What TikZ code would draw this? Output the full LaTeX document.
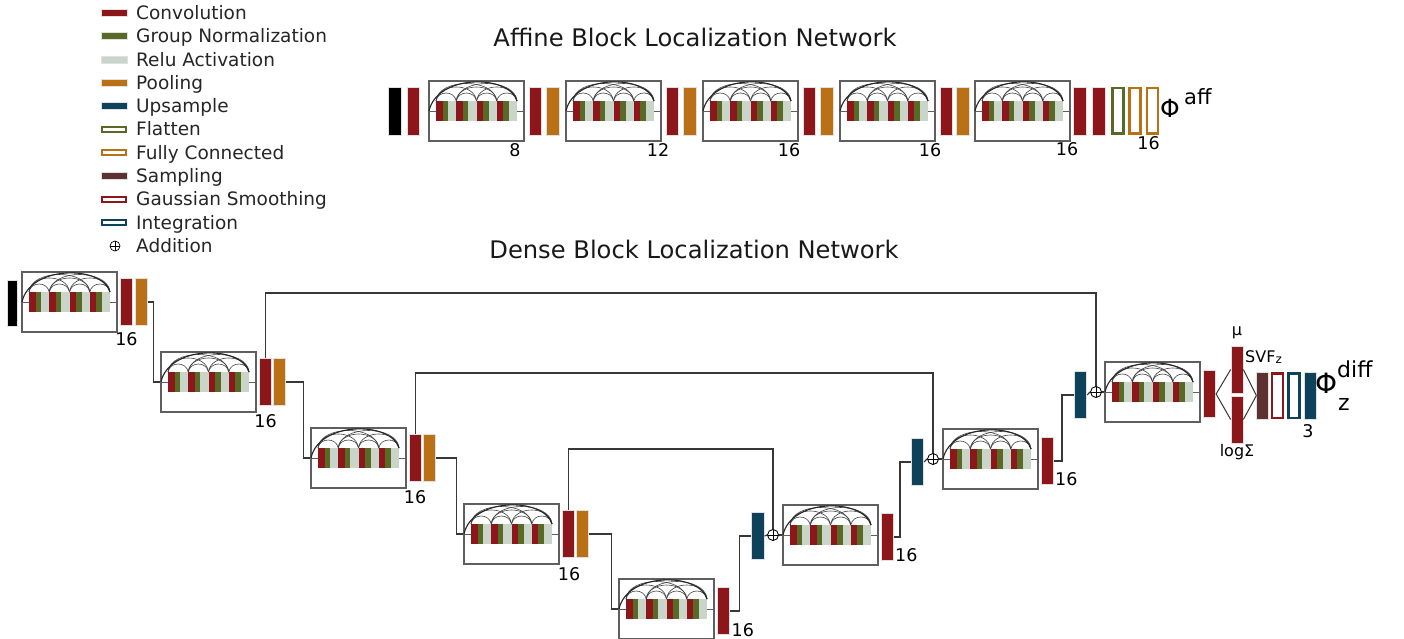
\documentclass[tikz,border=0pt]{standalone}
\usepackage{fontspec}
\setmainfont{DejaVu Sans}
\usetikzlibrary{calc}
\definecolor{conv}{RGB}{140,22,26}
\definecolor{gnorm}{RGB}{88,106,38}
\definecolor{relu}{RGB}{200,213,200}
\definecolor{pool}{RGB}{186,112,20}
\definecolor{ups}{RGB}{14,66,90}
\definecolor{samp}{RGB}{95,48,48}
\definecolor{lin}{RGB}{55,55,55}
\definecolor{boxc}{RGB}{95,95,95}
\tikzset{
  bar/.style={rectangle, inner sep=0pt, minimum width=12.5pt, minimum height=47pt, draw=black!12, line width=0.7pt},
  obar/.style={rectangle, inner sep=0pt, minimum width=11pt, minimum height=44.5pt, fill=white, line width=2.5pt},
  blk/.style={rectangle, draw=boxc, line width=1.1pt, minimum width=95pt, minimum height=60pt, inner sep=0pt},
  conn/.style={draw=lin, line width=1.2pt},
  arcl/.style={draw=black!75, line width=0.6pt},
  arck/.style={draw=black!85, line width=1.1pt},
  addc/.style={circle, draw=black, line width=0.9pt, minimum size=11pt, inner sep=0pt, path picture={\draw[line width=0.9pt] (path picture bounding box.north) -- (path picture bounding box.south) (path picture bounding box.west) -- (path picture bounding box.east);}},
  lab/.style={font=\fontsize{17.5}{17.5}\selectfont, inner sep=0pt},
  leg/.style={font=\fontsize{18.5}{18.5}\selectfont, inner sep=0pt, anchor=base west, text=black!85},
  sw/.style={rectangle, inner sep=0pt, minimum width=26pt, minimum height=7pt, draw=black!12, line width=0.7pt},
  osw/.style={rectangle, inner sep=0pt, minimum width=23.5pt, minimum height=5pt, fill=white, line width=2.2pt},
  ttl/.style={font=\fontsize{24.2}{24.2}\selectfont, inner sep=0pt, anchor=base, text=black!90},
}
\newcommand\dblock[3]{%
  \node[blk] (#1) at (#2+47.5,#3+30) {};
  \foreach \g in {0,1,2,3}{
    \pgfmathsetmacro\gx{#2+7+20.25*\g}
    \fill[conv] (\gx,#3+20) rectangle ++(6.5,20);
    \fill[gnorm] (\gx+6.5,#3+20) rectangle ++(5.5,20);
    \fill[relu] (\gx+12,#3+20) rectangle ++(8.25,20);
  }
  \draw[draw=boxc,line width=0.8pt] (#2,#3+30) -- (#2+7,#3+30) (#2+88,#3+30) -- (#2+95,#3+30);
  \foreach \i/\j/\h in {0/1/8,1/2/8,2/3/8,3/4/8,0/2/14,1/3/14,2/4/14,0/3/17.5,1/4/17.5}{
    \pgfmathsetmacro\xa{#2+7+20.25*\i}
    \pgfmathsetmacro\xb{#2+7+20.25*\j}
    \pgfmathsetmacro\cc{4/3*\h}
    \draw[arcl] (\xa,#3+20) .. controls (\xa+2,#3+20-\cc) and (\xb-2,#3+20-\cc) .. (\xb,#3+20);
  }
  \draw[arck] (#2,#3+30) .. controls (#2+8,#3-7) and (#2+80,#3-7) .. (#2+88,#3+20);
}
\begin{document}
\begin{tikzpicture}[x=1pt,y=-1pt]
\useasboundingbox (0,0) rectangle (1404,639);
\fill[white] (0,0) rectangle (1404,639);

% ---------------- legend ----------------
\node[sw,fill=conv] (g1) at (114,13) {};
\node[leg] (t1) at (136,19.5) {Convolution};
\node[sw,fill=gnorm] (g2) at (114,36.3) {};
\node[leg] (t2) at (136,42.8) {Group Normalization};
\node[sw,fill=relu] (g3) at (114,59.6) {};
\node[leg] (t3) at (136,66.1) {Relu Activation};
\node[sw,fill=pool] (g4) at (114,82.9) {};
\node[leg] (t4) at (136,89.4) {Pooling};
\node[sw,fill=ups] (g5) at (114,106.2) {};
\node[leg] (t5) at (136,112.7) {Upsample};
\node[osw,draw=gnorm] (g6) at (114,129.5) {};
\node[leg] (t6) at (136,136) {Flatten};
\node[osw,draw=pool] (g7) at (114,152.8) {};
\node[leg] (t7) at (136,159.3) {Fully Connected};
\node[sw,fill=samp] (g8) at (114,176.1) {};
\node[leg] (t8) at (136,182.6) {Sampling};
\node[osw,draw=conv] (g9) at (114,199.4) {};
\node[leg] (t9) at (136,205.9) {Gaussian Smoothing};
\node[osw,draw=ups] (g10) at (114,222.7) {};
\node[leg] (t10) at (136,229.2) {Integration};
\node[addc,minimum size=10pt,line width=0.7pt] (g11) at (115,246) {};
\node[leg] (t11) at (136,252.5) {Addition};

% ---------------- titles ----------------
\node[ttl] (ta) at (695,47) {Affine Block Localization Network};
\node[ttl] (td) at (694,258) {Dense Block Localization Network};

% ---------------- affine network ----------------
\node[bar,fill=black,minimum width=13pt,minimum height=48pt] (ain) at (394.5,111) {};
\node[bar,fill=conv,minimum height=48pt] (ac0) at (413.5,111) {};
\dblock{A1}{429}{81}
\node[bar,fill=conv,minimum height=48pt] (ac1) at (535.5,111) {};
\node[bar,fill=pool,minimum height=48pt] (ap1) at (553,111) {};
\dblock{A2}{566}{81}
\node[bar,fill=conv,minimum height=48pt] (ac2) at (672.5,111) {};
\node[bar,fill=pool,minimum height=48pt] (ap2) at (690,111) {};
\dblock{A3}{703}{81}
\node[bar,fill=conv,minimum height=48pt] (ac3) at (809.5,111) {};
\node[bar,fill=pool,minimum height=48pt] (ap3) at (827,111) {};
\dblock{A4}{840}{81}
\node[bar,fill=conv,minimum height=48pt] (ac4) at (946.5,111) {};
\node[bar,fill=pool,minimum height=48pt] (ap4) at (963,111) {};
\dblock{A5}{975}{81}
\node[bar,fill=conv,minimum height=48pt] (ac5) at (1080,111) {};
\node[bar,fill=conv,minimum height=48pt] (ac6) at (1099,111) {};
\node[obar,draw=gnorm,minimum height=45.5pt] (afl) at (1118,111) {};
\node[obar,draw=pool,minimum height=45.5pt] (afc1) at (1135,111) {};
\node[obar,draw=pool,minimum height=45.5pt] (afc2) at (1152.5,111) {};
\node[lab,anchor=base] (la1) at (515,157) {8};
\node[lab,anchor=base] (la2) at (658,157) {12};
\node[lab,anchor=base] (la3) at (789,157) {16};
\node[lab,anchor=base] (la4) at (930,157) {16};
\node[lab,anchor=base] (la5) at (1067,156) {16};
\node[lab,anchor=base] (la6) at (1148.5,150) {16};
\node[inner sep=0pt,anchor=base west,font=\fontsize{25}{25}\selectfont] (phia) at (1160,118) {Φ};
\node[inner sep=0pt,anchor=base west,font=\fontsize{21}{21}\selectfont] (affs) at (1184,105) {aff};

% ---------------- dense network ----------------
\node[bar,fill=black,minimum width=10pt,minimum height=46pt] (din) at (12,303) {};
\dblock{B1}{22}{272}
\node[bar,fill=conv] (d1c) at (126.5,302) {};
\node[bar,fill=pool] (d1o) at (141.5,302) {};
\dblock{B2}{161}{352}
\node[bar,fill=conv] (d2c) at (265.5,382) {};
\node[bar,fill=pool] (d2o) at (279.5,382) {};
\dblock{B3}{311}{428}
\node[bar,fill=conv] (d3c) at (415.5,458) {};
\node[bar,fill=pool] (d3o) at (429.5,458) {};
\dblock{B4}{464}{504}
\node[bar,fill=conv] (d4c) at (568.5,534) {};
\node[bar,fill=pool] (d4o) at (582.5,534) {};
\dblock{B5}{619}{579}
\node[bar,fill=conv] (d5c) at (723.5,611) {};
\node[bar,fill=ups] (u6) at (758,536) {};
\node[addc] (p6) at (773,535) {};
\dblock{B6}{783}{505}
\node[bar,fill=conv] (d6c) at (887.5,537) {};
\node[bar,fill=ups] (u7) at (917.5,462) {};
\node[addc] (p7) at (933,459) {};
\dblock{B7}{943}{429}
\node[bar,fill=conv] (d7c) at (1047.5,461) {};
\node[bar,fill=ups] (u8) at (1080.5,395) {};
\node[addc] (p8) at (1096,392) {};
\dblock{B8}{1105}{362}
\node[bar,fill=conv] (d8c) at (1209.5,394) {};
\node[bar,fill=conv,minimum width=12pt] (mu) at (1237,369.5) {};
\node[bar,fill=conv,minimum width=12pt] (ls) at (1237,419.5) {};
\node[bar,fill=samp,minimum width=11.5pt] (sm) at (1262.5,395.5) {};
\node[obar,draw=conv] (gs) at (1277.5,395.5) {};
\node[obar,draw=ups] (ig) at (1294,395.5) {};
\node[bar,fill=ups,minimum width=12pt] (uo) at (1310,395.5) {};

% labels
\node[lab,anchor=base] (ld1) at (126.5,345) {16};
\node[lab,anchor=base] (ld2) at (265.5,427) {16};
\node[lab,anchor=base] (ld3) at (415,503) {16};
\node[lab,anchor=base] (ld4) at (569,580) {16};
\node[lab,anchor=base west] (ld5) at (731.5,636) {16};
\node[lab,anchor=base west] (ld6) at (895,561) {16};
\node[lab,anchor=base west] (ld7) at (1055,485) {16};
\node[lab,anchor=base] (ld8) at (1308,437) {3};
\node[inner sep=0pt,font=\fontsize{16}{16}\selectfont] (tmu) at (1237,333) {μ};
\node[inner sep=0pt,anchor=base,font=\fontsize{16}{16}\selectfont] (tls) at (1237,456) {logΣ};
\node[inner sep=0pt,anchor=base west,font=\fontsize{16}{16}\selectfont] (tsvf) at (1245,362) {SVF\raisebox{-1pt}{\fontsize{12}{12}\selectfont z}};
\node[inner sep=0pt,anchor=base west,font=\fontsize{28}{28}\selectfont] (phid) at (1315,393) {Φ};
\node[inner sep=0pt,anchor=base west,font=\fontsize{22}{22}\selectfont] (dsup) at (1337,377) {diff};
\node[inner sep=0pt,anchor=base west,font=\fontsize{22}{22}\selectfont] (dsub) at (1338,410) {z};

% connectors: descending path
\draw[conn] (d1o.east) -| ([xshift=-7pt]B2.west) -- (B2.west);
\draw[conn] (d2o.east) -| ([xshift=-7pt]B3.west) -- (B3.west);
\draw[conn] (d3o.east) -| ([xshift=-7pt]B4.west) -- (B4.west);
\draw[conn] (d4o.east) -| ([xshift=-7pt]B5.west) -- (B5.west);
% ascending path
\draw[conn] (d5c.east) -| ([xshift=-12pt]u6.west) -- (u6.west);
\draw[conn] (u6.east) -- (p6.west);
\draw[conn] (p6.east) -- (B6.west);
\draw[conn] (d6c.east) -| ([xshift=-11pt]u7.west) -- (u7.west);
\draw[conn] (u7.east) -- (p7.west);
\draw[conn] (p7.east) -- (B7.west);
\draw[conn] (d7c.east) -| ([xshift=-12pt]u8.west) -- (u8.west);
\draw[conn] (u8.east) -- (p8.west);
\draw[conn] (p8.east) -- (B8.west);
% skip connections
\coordinate (s1) at (700,293);
\coordinate (s2) at (700,373);
\coordinate (s3) at (670,449);
\draw[conn] (d2c.north) |- (s1) -| (p8.north);
\draw[conn] (d3c.north) |- (s2) -| (p7.north);
\draw[conn] (d4c.north) |- (s3) -| (p6.north);
% output head
\draw[conn,line width=1pt] (d8c.east) -- (mu.west);
\draw[conn,line width=1pt] (d8c.east) -- (ls.west);
\draw[conn,line width=1pt] (mu.east) -- (sm.west);
\draw[conn,line width=1pt] (ls.east) -- (sm.west);
\end{tikzpicture}
\end{document}
